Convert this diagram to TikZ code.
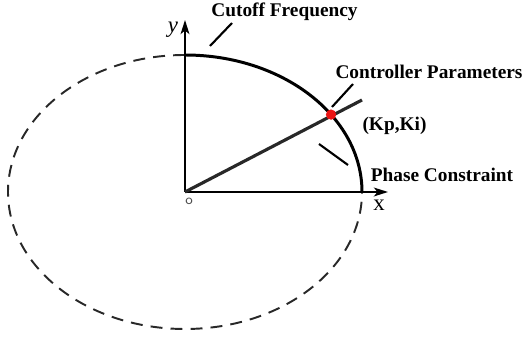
\documentclass[tikz,border=0pt]{standalone}
\usepackage{fontspec}
\setmainfont{Liberation Serif}
\usepackage{tikz}
\usetikzlibrary{arrows.meta}
\usepackage{xcolor}
\definecolor{darkline}{RGB}{40, 40, 40}
\definecolor{pointred}{RGB}{235, 20, 20}

\tikzset{
    axis/.style={-{Stealth[length=8pt,width=5pt,inset=2pt]},line width=1.1pt,black},
    bound/.style={line width=1.7pt,black},
    guess/.style={line width=1.1pt,darkline,dash pattern=on 6.8pt off 4.6pt},
    gainline/.style={line width=1.8pt,darkline},
    leader/.style={line width=1.2pt,black},
    tag/.style={font=\bfseries\fontsize{11}{13}\selectfont,inner sep=0pt}
}

\begin{document}
\begin{tikzpicture}
        \useasboundingbox (-3.7,-2.98) rectangle (6.78,3.84);

        % Ellipse: solid quarter in the first quadrant, dashed elsewhere
        \draw[guess] (0,2.74) arc[start angle=90, end angle=360, x radius=3.54, y radius=2.74];
        \draw[bound] (0,2.74) arc[start angle=90, end angle=0, x radius=3.54, y radius=2.74];

        % Axes
        \coordinate (O) at (0,0);
        \draw[axis] (O) -- (4.06,0) node[coordinate] (xend) {};
        \draw[axis] (O) -- (0,3.44) node[coordinate] (yend) {};
        \node[font=\itshape\fontsize{13}{15}\selectfont] (ylab) at (-0.24,3.24) {y};
        \node[font=\fontsize{13}{15}\selectfont] (xlab) at (3.88,-0.27) {x};
        \node[font=\sffamily\fontsize{8}{9}\selectfont,gray!60!black] (olab) at (0.08,-0.19) {o};

        % Parameter line through the operating point
        \coordinate (kp) at (34.4:3.54cm and 2.74cm);
        \coordinate (gainend) at (3.54,1.84);
        \draw[gainline] (O) -- (gainend);
        \filldraw[pointred] (kp) circle (2.7pt);

        % Labels and leader lines
        \node[tag] (cutoff) at (1.99,3.6) {Cutoff Frequency};
        \node[tag] (ctrl) at (4.88,2.4) {Controller Parameters};
        \node[tag] (kpki) at (4.19,1.32) {(Kp,Ki)};
        \node[tag] (phase) at (5.14,0.34) {Phase Constraint};

        \coordinate (cutA) at (0.5,2.92);
        \coordinate (cutB) at (0.94,3.38);
        \coordinate (ctrlA) at (2.94,1.70);
        \coordinate (ctrlB) at (3.36,2.16);
        \coordinate (phA) at (2.68,0.96);
        \coordinate (phB) at (3.26,0.54);
        \draw[leader] (cutA) -- (cutB);
        \draw[leader] (ctrlA) -- (ctrlB);
        \draw[leader] (phA) -- (phB);
    \end{tikzpicture}
\end{document}
